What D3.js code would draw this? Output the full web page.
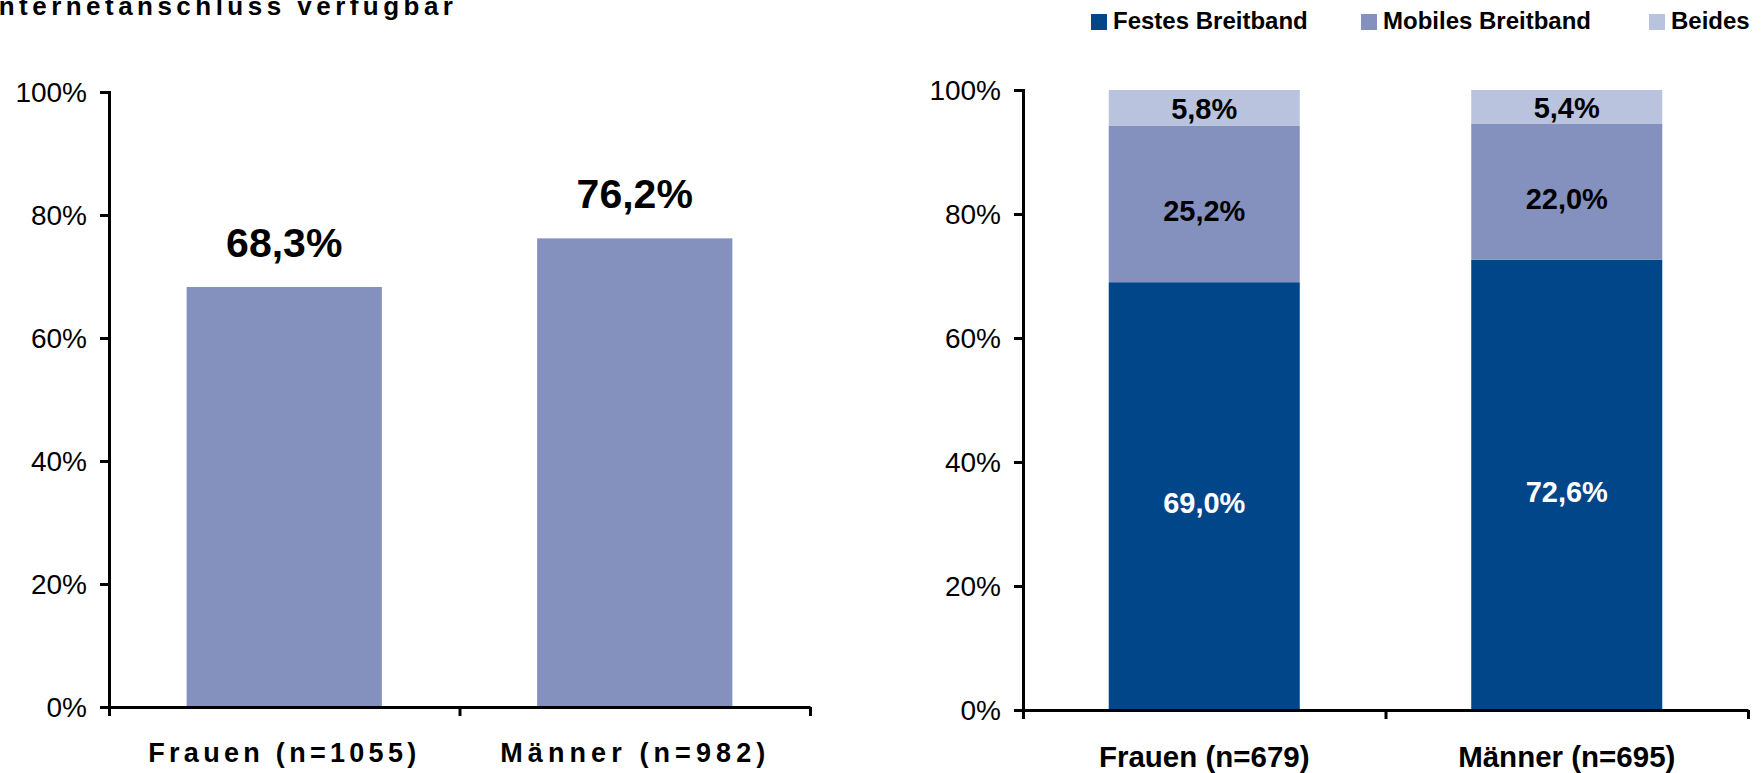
<!DOCTYPE html>
<html><head><meta charset="utf-8">
<script src="https://cdn.jsdelivr.net/npm/d3@7"></script>
<style>
html,body{margin:0;padding:0;background:#fff;}
svg{display:block;font-family:"Liberation Sans",Arial,sans-serif;}
</style></head>
<body>
<script>
// ---- data ----
const titleText = "Internetanschluss verfügbar";
const leftCategories = ["Frauen (n=1055)", "Männer (n=982)"];
const leftValues = [68.3, 76.2];
const leftLabels = ["68,3%", "76,2%"];

const rightCategories = ["Frauen (n=679)", "Männer (n=695)"];
const seriesNames = ["Festes Breitband", "Mobiles Breitband", "Beides"];
const festesValues = [69.0, 72.6];
const mobilesValues = [25.2, 22.0];
const beidesValues = [5.8, 5.4];
const festesLabels = ["69,0%", "72,6%"];
const mobilesLabels = ["25,2%", "22,0%"];
const beidesLabels = ["5,8%", "5,4%"];

const yTicks = [0, 20, 40, 60, 80, 100];
const yTickLabels = ["0%", "20%", "40%", "60%", "80%", "100%"];

// ---- styles ----
const colFestes = "#02468a", colMobiles = "#8491be", colBeides = "#b9c3dd";
const W = 1763, H = 773;

const svg = d3.select("body").append("svg").attr("width", W).attr("height", H);

// title (cut off at the top/left like the reference)
svg.append("text").attr("x", -13).attr("y", 15)
  .attr("font-size", 26).attr("font-weight", "bold")
  .attr("textLength", 466).attr("lengthAdjust", "spacing")
  .text(titleText);

function drawYAxis(g, y, x0) {
  const ax = d3.axisLeft(y).tickValues(yTicks).tickSize(9).tickPadding(13)
    .tickFormat((d, i) => yTickLabels[i]);
  const a = g.append("g").attr("transform", `translate(${x0},0)`).call(ax);
  a.select(".domain").attr("stroke", "#000").attr("stroke-width", 3);
  a.selectAll(".tick line").attr("stroke", "#000").attr("stroke-width", 3);
  a.selectAll(".tick text").attr("font-size", 28).attr("fill", "#000")
    .attr("font-family", "Liberation Sans, Arial, sans-serif").attr("dy", "0.35em");
}
function drawXAxis(g, x, y0) {
  const r = x.range();
  const lin = d3.scaleLinear().domain([0, x.domain().length]).range(r);
  const ax = d3.axisBottom(lin).tickValues(d3.range(x.domain().length + 1))
    .tickSize(9).tickFormat("").tickSizeOuter(0);
  const a = g.append("g").attr("transform", `translate(0,${y0})`).call(ax);
  a.select(".domain").attr("stroke", "#000").attr("stroke-width", 3);
  a.selectAll(".tick line").attr("stroke", "#000").attr("stroke-width", 3);
}

// ---- left chart ----
const yL = d3.scaleLinear().domain([0, 100]).range([707, 92]);
const xL = d3.scaleBand().domain(leftCategories).range([109, 810])
  .paddingInner(0.443).paddingOuter(0.2215);
const gL = svg.append("g");
gL.selectAll("rect").data(leftValues).join("rect")
  .attr("x", (d, i) => xL(leftCategories[i]))
  .attr("width", xL.bandwidth())
  .attr("y", d => yL(d))
  .attr("height", d => yL(0) - yL(d))
  .attr("fill", colMobiles);
gL.selectAll("text.val").data(leftValues).join("text").attr("class", "val")
  .attr("x", (d, i) => xL(leftCategories[i]) + xL.bandwidth() / 2)
  .attr("y", d => yL(d) - 30)
  .attr("text-anchor", "middle").attr("font-size", 41).attr("font-weight", "bold")
  .text((d, i) => leftLabels[i]);
drawYAxis(gL, yL, 109);
drawXAxis(gL, xL, 707);
const leftCatWidths = [268, 265];
gL.selectAll("text.cat").data(leftCategories).join("text").attr("class", "cat")
  .attr("x", (d, i) => xL(d) + xL.bandwidth() / 2 - 2 - leftCatWidths[i] / 2)
  .attr("y", 762)
  .attr("font-size", 27).attr("font-weight", "bold")
  .attr("textLength", (d, i) => leftCatWidths[i]).attr("lengthAdjust", "spacing")
  .text(d => d);

// ---- right chart ----
const yR = d3.scaleLinear().domain([0, 100]).range([710, 90]);
const xR = d3.scaleBand().domain(rightCategories).range([1023, 1748])
  .paddingInner(0.473).paddingOuter(0.2365);
const gR = svg.append("g");
const stackRows = rightCategories.map((c, i) => ({
  cat: c, festes: festesValues[i], mobiles: mobilesValues[i], beides: beidesValues[i]
}));
const keys = ["festes", "mobiles", "beides"];
const colors = [colFestes, colMobiles, colBeides];
const labelSets = [festesLabels, mobilesLabels, beidesLabels];
const labelColors = ["#fff", "#000", "#000"];
const stacked = d3.stack().keys(keys)(stackRows);
stacked.forEach((layer, k) => {
  gR.append("g").selectAll("rect").data(layer).join("rect")
    .attr("x", d => xR(d.data.cat))
    .attr("width", xR.bandwidth())
    .attr("y", d => yR(d[1]))
    .attr("height", d => yR(d[0]) - yR(d[1]))
    .attr("fill", colors[k]);
  gR.append("g").selectAll("text").data(layer).join("text")
    .attr("x", d => xR(d.data.cat) + xR.bandwidth() / 2)
    .attr("y", d => {
      const h = yR(d[0]) - yR(d[1]);
      return (yR(d[0]) + yR(d[1])) / 2 + (h > 60 ? 17 : 11);
    })
    .attr("text-anchor", "middle").attr("font-size", 29).attr("font-weight", "bold")
    .attr("fill", labelColors[k])
    .text((d, i) => labelSets[k][i]);
});
drawYAxis(gR, yR, 1023);
drawXAxis(gR, xR, 710);
gR.selectAll("text.cat").data(rightCategories).join("text").attr("class", "cat")
  .attr("x", d => xR(d) + xR.bandwidth() / 2)
  .attr("y", 767)
  .attr("text-anchor", "middle")
  .attr("font-size", 29.5).attr("font-weight", "bold")
  .text(d => d);

// ---- legend ----
const legendX = [1091, 1361, 1649];
const lg = svg.append("g");
seriesNames.forEach((name, i) => {
  lg.append("rect").attr("x", legendX[i]).attr("y", 14).attr("width", 16).attr("height", 16)
    .attr("fill", colors[i]);
  lg.append("text").attr("x", legendX[i] + 22).attr("y", 29)
    .attr("font-size", 24).attr("font-weight", "bold").text(name);
});
</script>
</body></html>
